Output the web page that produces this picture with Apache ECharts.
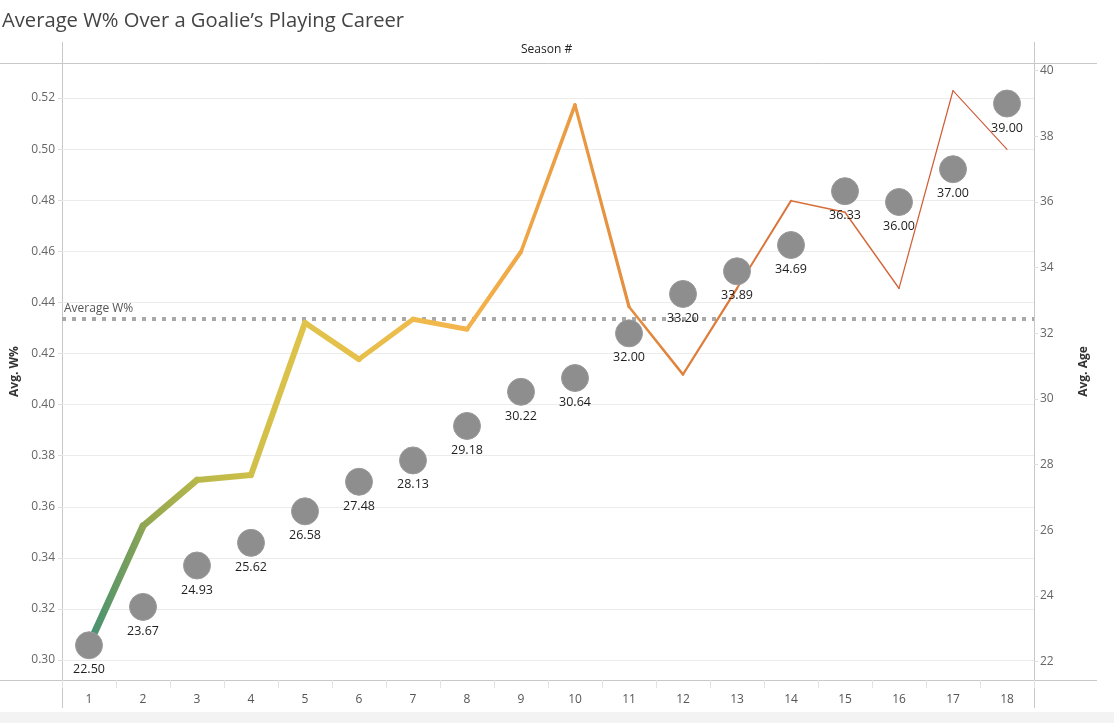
<!DOCTYPE html>
<html><head><meta charset="utf-8">
<script src="https://cdn.jsdelivr.net/npm/echarts@6/dist/echarts.min.js"></script>
<style>html,body{margin:0;padding:0;background:#fff}#c{width:1114px;height:723px}</style>
</head><body><div id="c"></div>
<script>
// ---- data ----
const seasons = ['1','2','3','4','5','6','7','8','9','10','11','12','13','14','15','16','17','18'];
const winPct = [0.306,0.3525,0.3705,0.3724,0.4320,0.4177,0.4334,0.4295,0.4598,0.5173,0.4383,0.4118,0.4455,0.4798,0.4753,0.4455,0.5229,0.4999];
const avgAge = [22.50,23.67,24.93,25.62,26.58,27.48,28.13,29.18,30.22,30.64,32.00,33.20,33.89,34.69,36.33,36.00,37.00,39.00];
const avgWinRef = 0.4335;
const leftTicks = [0.30,0.32,0.34,0.36,0.38,0.40,0.42,0.44,0.46,0.48,0.50,0.52];
const rightTicks = [22,24,26,28,30,32,34,36,38,40];

// ---- styles ----
const nodeColors = ['#3f8f76','#8fa552','#b7b84a','#cfbf49','#e0c34b','#e6c04b','#efbb4c','#f4b34c','#f0a747','#e99a42','#e48e3f','#df803c','#dc783b','#d9713a','#d66a3a','#d3633a','#d05c38','#cd5636'];
const segWidths = [7,6.5,6,6,5.5,5,5,4.2,3.6,3.2,2.6,2.2,2,1.6,1.5,1.3,1.1];
const FONT = 'Open Sans';

const chart = echarts.init(document.getElementById('c'), null, {renderer:'canvas'});

const series = [];
for (let i = 0; i < seasons.length - 1; i++) {
  series.push({
    type: 'line',
    yAxisIndex: 0,
    data: winPct.map((v, j) => (j === i || j === i + 1) ? v : null),
    connectNulls: false,
    showSymbol: false,
    symbol: 'none',
    silent: true,
    z: 2,
    lineStyle: {
      width: segWidths[i],
      cap: 'round',
      join: 'round',
      color: new echarts.graphic.LinearGradient(0, 0, 1, 0, [
        {offset: 0, color: nodeColors[i]},
        {offset: 1, color: nodeColors[i + 1]}
      ])
    },
    markLine: i === 0 ? {
      silent: true,
      symbol: 'none',
      precision: 6,
      z: 1,
      lineStyle: {color: '#a9a9a9', width: 4, type: [4, 6]},
      label: {show: true, position: 'insideStartTop', formatter: 'Average W%', color: '#555', fontSize: 12, fontFamily: FONT, distance: [2, 4]},
      data: [{yAxis: avgWinRef}]
    } : undefined
  });
}
series.push({
  type: 'scatter',
  yAxisIndex: 1,
  data: avgAge,
  symbolSize: 27,
  z: 3,
  itemStyle: {color: '#8e8e8e', opacity: 1, borderColor: '#9a9a9a', borderWidth: 1},
  label: {show: true, position: 'bottom', distance: 4, color: '#1e1e1e', fontSize: 12.5, fontFamily: FONT,
    formatter: p => p.value.toFixed(2)}
});

const frame = '#c8c8c8';
chart.setOption({
  animation: false,
  title: {text: 'Average W% Over a Goalie\u2019s Playing Career', left: -3, top: 6,
    textStyle: {fontSize: 20.2, fontWeight: 'normal', color: '#444', fontFamily: FONT}},
  grid: {left: 62, right: 80, top: 63, bottom: 43, containLabel: false, outerBoundsMode: 'none'},
  xAxis: {
    type: 'category', data: seasons, boundaryGap: true,
    axisLine: {show: false},
    axisTick: {show: true, length: 8, lineStyle: {color: '#e2e2e2'}},
    axisLabel: {color: '#555', fontSize: 12, fontFamily: FONT, margin: 14}
  },
  yAxis: [
    {
      type: 'value', min: 0.2922, max: 0.5337, position: 'left',
      name: 'Avg. W%', nameLocation: 'middle', nameGap: 40, nameRotate: 90,
      nameTextStyle: {color: '#333', fontSize: 12, fontWeight: 'bold', fontFamily: FONT},
      axisLine: {show: false},
      axisTick: {show: true, length: 4, lineStyle: {color: '#ddd'}, customValues: leftTicks},
      axisLabel: {color: '#666', fontSize: 12, fontFamily: FONT, margin: 7, customValues: leftTicks,
        formatter: v => v.toFixed(2)},
      splitLine: {show: true, lineStyle: {color: '#ececec', width: 1}}
    },
    {
      type: 'value', min: 21.443, max: 40.234, position: 'right',
      name: 'Avg. Age', nameLocation: 'middle', nameGap: 44, nameRotate: 90,
      nameTextStyle: {color: '#333', fontSize: 12, fontWeight: 'bold', fontFamily: FONT},
      axisLine: {show: false},
      axisTick: {show: true, inside: false, length: 4, lineStyle: {color: '#ddd'}, customValues: rightTicks},
      axisLabel: {color: '#666', fontSize: 12, fontFamily: FONT, margin: 6, customValues: rightTicks,
        formatter: v => String(v)},
      splitLine: {show: false}
    }
  ],
  graphic: [
    {type: 'line', shape: {x1: 0, y1: 63.5, x2: 1097, y2: 63.5}, style: {stroke: frame, lineWidth: 1}, silent: true},
    {type: 'line', shape: {x1: 0, y1: 680.5, x2: 1097, y2: 680.5}, style: {stroke: frame, lineWidth: 1}, silent: true},
    {type: 'line', shape: {x1: 62.5, y1: 42, x2: 62.5, y2: 708}, style: {stroke: frame, lineWidth: 1}, silent: true},
    {type: 'line', shape: {x1: 1034.5, y1: 42, x2: 1034.5, y2: 708}, style: {stroke: frame, lineWidth: 1}, silent: true},
    {type: 'text', left: 521, top: 44, style: {text: 'Season #', fill: '#222', fontSize: 12, fontWeight: 500, fontFamily: FONT}, silent: true},
    {type: 'rect', shape: {x: 0, y: 712, width: 1114, height: 11}, style: {fill: '#f3f3f3'}, silent: true}
  ],
  series: series
});
</script></body></html>
